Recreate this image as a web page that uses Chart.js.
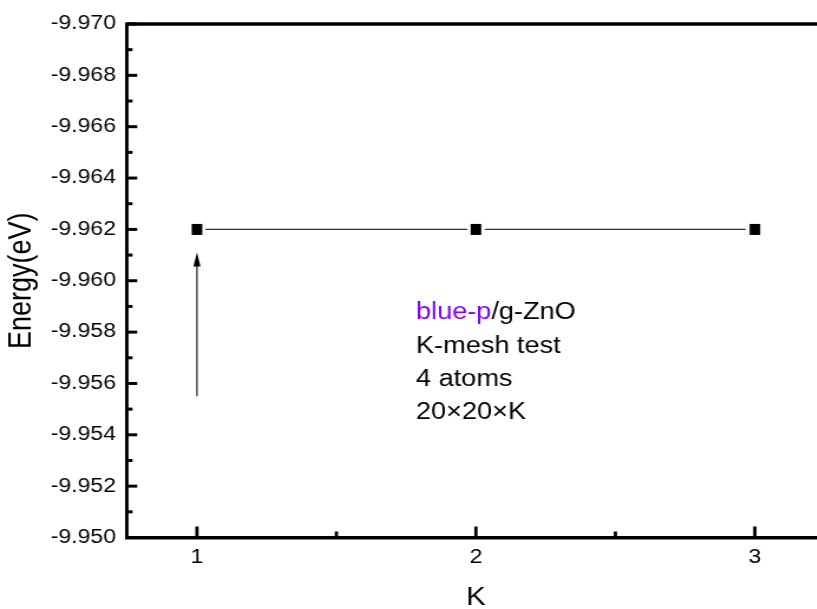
<!DOCTYPE html>
<html>
<head>
<meta charset="utf-8">
<title>K-mesh test</title>
<script src="https://cdn.jsdelivr.net/npm/chart.js@4.4.0/dist/chart.umd.min.js"></script>
<style>
    html, body { margin: 0; padding: 0; background: #fff; overflow: hidden; }
    /* the reference text is drawn a little wide, so stretch the whole plot sideways */
    #wrap { width: 706px; height: 609px; transform: scaleX(1.18); transform-origin: 0 0; }
</style>
</head>
<body>
<div id="wrap"><canvas id="chart" width="706" height="609"></canvas></div>
<script>
// data
const kPoints = [1, 2, 3];
const energies = [-9.962, -9.962, -9.962];

const xTicks = [1, 2, 3];
const yTicks = [-9.970, -9.968, -9.966, -9.964, -9.962, -9.960, -9.958, -9.956, -9.954, -9.952, -9.950];

// arrow pointing at the first point
const arrowStart = [1, -9.9555];
const arrowEnd = [1, -9.9611];

// note inside the plot
const noteLines = ['blue-p/g-ZnO', 'K-mesh test', '4 atoms', '20\u00d720\u00d7K'];
const noteHighlight = 'blue-p';
const noteAnchor = [1.785, -9.9585];

const FONT = "'Liberation Sans', Arial, sans-serif";

// square marker with a white margin so the line stops short of it
const marker = document.createElement('canvas');
marker.width = 15;
marker.height = 17;
const mctx = marker.getContext('2d');
mctx.fillStyle = '#fff';
mctx.fillRect(0, 0, 15, 17);
mctx.fillStyle = '#000';
mctx.fillRect(3, 3, 9, 11);

function line(ctx, x1, y1, x2, y2) {
    ctx.beginPath();
    ctx.moveTo(x1, y1);
    ctx.lineTo(x2, y2);
    ctx.stroke();
}

// top frame line, inward ticks, arrow and the note
const framePlugin = {
    id: 'frame',
    afterDraw(chart) {
        const { ctx, chartArea: a, scales } = chart;
        const x = scales.x;
        const y = scales.y;
        ctx.save();
        ctx.strokeStyle = '#000';

        ctx.lineWidth = 3.5;
        line(ctx, a.left - 1.4, a.top, a.right + 10, a.top);

        // y ticks (major + minor in between)
        ctx.lineWidth = 3;
        yTicks.forEach((v, i) => {
            const p = y.getPixelForValue(v);
            line(ctx, a.left, p, a.left + 8.5, p);
            if (i < yTicks.length - 1) {
                const m = y.getPixelForValue((v + yTicks[i + 1]) / 2);
                line(ctx, a.left, m, a.left + 4.5, m);
            }
        });

        // x ticks
        ctx.lineWidth = 2.8;
        xTicks.forEach((v, i) => {
            const p = x.getPixelForValue(v);
            line(ctx, p, a.bottom, p, a.bottom - 11);
            if (i < xTicks.length - 1) {
                const m = x.getPixelForValue((v + xTicks[i + 1]) / 2);
                line(ctx, m, a.bottom, m, a.bottom - 6);
            }
        });

        // arrow
        const ax = x.getPixelForValue(arrowStart[0]);
        const y0 = y.getPixelForValue(arrowStart[1]);
        const y1 = y.getPixelForValue(arrowEnd[1]);
        ctx.strokeStyle = '#111';
        ctx.lineWidth = 1.1;
        line(ctx, ax, y0, ax, y1 + 10);
        ctx.fillStyle = '#000';
        ctx.beginPath();
        ctx.moveTo(ax, y1);
        ctx.lineTo(ax - 3, y1 + 14);
        ctx.lineTo(ax + 3, y1 + 14);
        ctx.closePath();
        ctx.fill();

        // note text
        ctx.font = '23px ' + FONT;
        ctx.textAlign = 'left';
        ctx.textBaseline = 'alphabetic';
        const nx = x.getPixelForValue(noteAnchor[0]);
        const ny = y.getPixelForValue(noteAnchor[1]);
        noteLines.forEach((txt, i) => {
            const ly = ny + i * 33.3;
            if (i === 0 && txt.startsWith(noteHighlight)) {
                ctx.fillStyle = '#8000ff';
                ctx.fillText(noteHighlight, nx, ly);
                const w = ctx.measureText(noteHighlight).width;
                ctx.fillStyle = '#000';
                ctx.fillText(txt.slice(noteHighlight.length), nx + w, ly);
            } else {
                ctx.fillStyle = '#000';
                ctx.fillText(txt, nx, ly);
            }
        });
        ctx.restore();
    },
};

new Chart(document.getElementById('chart'), {
    type: 'line',
    data: {
        datasets: [
            {
                data: kPoints.map((k, i) => ({ x: k, y: energies[i] })),
                borderColor: '#333',
                borderWidth: 1.2,
                pointStyle: marker,
                pointRadius: 6,
                pointHoverRadius: 6,
                clip: false,
            },
        ],
    },
    options: {
        responsive: false,
        animation: false,
        devicePixelRatio: 1,
        layout: { padding: { top: 24, left: 0, right: 6, bottom: 0 } },
        plugins: {
            legend: { display: false },
            tooltip: { enabled: false },
        },
        scales: {
            x: {
                type: 'linear',
                min: 0.75,
                max: 3.25,
                afterBuildTicks: (s) => {
                    s.ticks = xTicks.map((v) => ({ value: v }));
                },
                afterFit: (s) => {
                    s.height = 71.5;
                },
                grid: { display: false, drawTicks: false },
                border: { display: true, color: '#000', width: 3.5 },
                ticks: {
                    color: '#000',
                    padding: 8,
                    font: { family: FONT, size: 19.5 },
                    callback: (v) => String(v),
                },
                title: {
                    display: true,
                    text: 'K',
                    color: '#000',
                    padding: 0,
                    font: { family: FONT, size: 25, lineHeight: 0.9 },
                },
            },
            y: {
                type: 'linear',
                reverse: true,
                min: -9.970,
                max: -9.950,
                afterBuildTicks: (s) => {
                    s.ticks = yTicks.map((v) => ({ value: v }));
                },
                afterFit: (s) => {
                    s.width = 107.8;
                },
                grid: { display: false, drawTicks: false },
                border: { display: true, color: '#000', width: 2.9 },
                ticks: {
                    color: '#000',
                    padding: 9.5,
                    font: { family: FONT, size: 19.5 },
                    callback: (v) => Number(v).toFixed(3),
                },
                title: {
                    display: true,
                    text: 'Energy(eV)',
                    color: '#000',
                    padding: { top: 2, bottom: 0 },
                    font: { family: FONT, size: 27, lineHeight: 1.2 },
                },
            },
        },
    },
    plugins: [framePlugin],
});
</script>
</body>
</html>
